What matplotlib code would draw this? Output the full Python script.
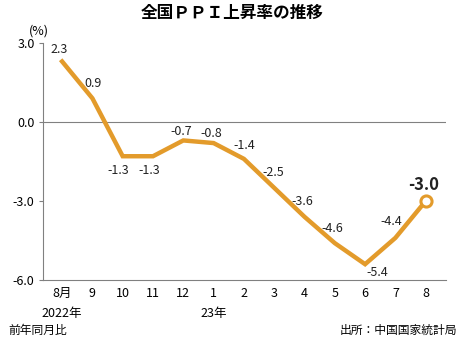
import matplotlib
matplotlib.use("Agg")
import matplotlib.pyplot as plt

plt.rcParams['font.family'] = ['Liberation Sans Narrow', 'Noto Sans CJK JP', 'DejaVu Sans']

months = ["8月", "9", "10", "11", "12", "1", "2", "3", "4", "5", "6", "7", "8"]
ppi = [2.3, 0.9, -1.3, -1.3, -0.7, -0.8, -1.4, -2.5, -3.6, -4.6, -5.4, -4.4, -3.0]
yticks = [3.0, 0.0, -3.0, -6.0]
year_labels = {0: "2022年", 5: "23年"}

# label offsets in pixels (dx, dy) relative to each point
offsets = [(-3, 12), (1, 15), (-4, -14), (-4, -14), (-2, 9), (-2, 10),
           (0, 13), (-1, 15), (-2, 15), (-2, 15), (12, -8), (-4, 16), (-2, 16)]

LINE = "#E39B2B"
GRAY = "#808080"
NUM = 9

dpi = 100
fig = plt.figure(figsize=(4.65, 3.38), dpi=dpi)
ax = fig.add_axes([43 / 465, 1 - 280 / 338, (446 - 43) / 465, (280 - 43) / 338])

x = list(range(len(ppi)))
ax.plot(x, ppi, color=LINE, lw=3.2, solid_joinstyle='miter', zorder=3)
ax.plot(x[-1], ppi[-1], 'o', ms=8, mfc='white', mec=LINE, mew=2.2, zorder=4)

ax.axhline(0, color=GRAY, lw=0.8, zorder=1)

ax.set_xlim(-0.63, 12.67)
ax.set_ylim(-6, 3)
ax.set_yticks(yticks)
ax.set_yticklabels([f"{v:.1f}" for v in yticks], fontsize=NUM)
ax.set_xticks(x)
ax.set_xticklabels(months, fontsize=NUM)
ax.tick_params(axis='x', length=0, pad=5)
ax.tick_params(axis='y', length=3, width=0.8, color=GRAY, pad=3)

for side in ['top', 'right']:
    ax.spines[side].set_visible(False)
for side in ['left', 'bottom']:
    ax.spines[side].set_color(GRAY)
    ax.spines[side].set_linewidth(0.8)

pt = 72 / dpi
for i, (v, (dx, dy)) in enumerate(zip(ppi, offsets)):
    last = i == len(ppi) - 1
    ax.annotate(f"{v:.1f}", (i, v), xytext=(dx * pt, dy * pt), textcoords='offset points',
                ha='center', va='center', fontsize=12 if last else NUM,
                fontweight='bold' if last else 'normal', color='#222222')

for i, lab in year_labels.items():
    ax.annotate(lab, (i, 0), xycoords=('data', 'axes fraction'), xytext=(0, -33 * pt),
                textcoords='offset points', ha='center', va='center', fontsize=NUM)

fig.text(232 / 465, 1 - 13 / 338, "全国ＰＰＩ上昇率の推移", ha='center', va='center',
         fontsize=12, fontweight='bold', family=['Noto Sans CJK JP', 'DejaVu Sans'])
fig.text(39 / 465, 1 - 31 / 338, "(%)", ha='center', va='center', fontsize=NUM)
fig.text(8 / 465, 1 - 330 / 338, "前年同月比", ha='left', va='center', fontsize=8.5)
fig.text(457 / 465, 1 - 330 / 338, "出所：中国国家統計局", ha='right', va='center', fontsize=8.5)

fig.savefig("out.png", dpi=dpi)
